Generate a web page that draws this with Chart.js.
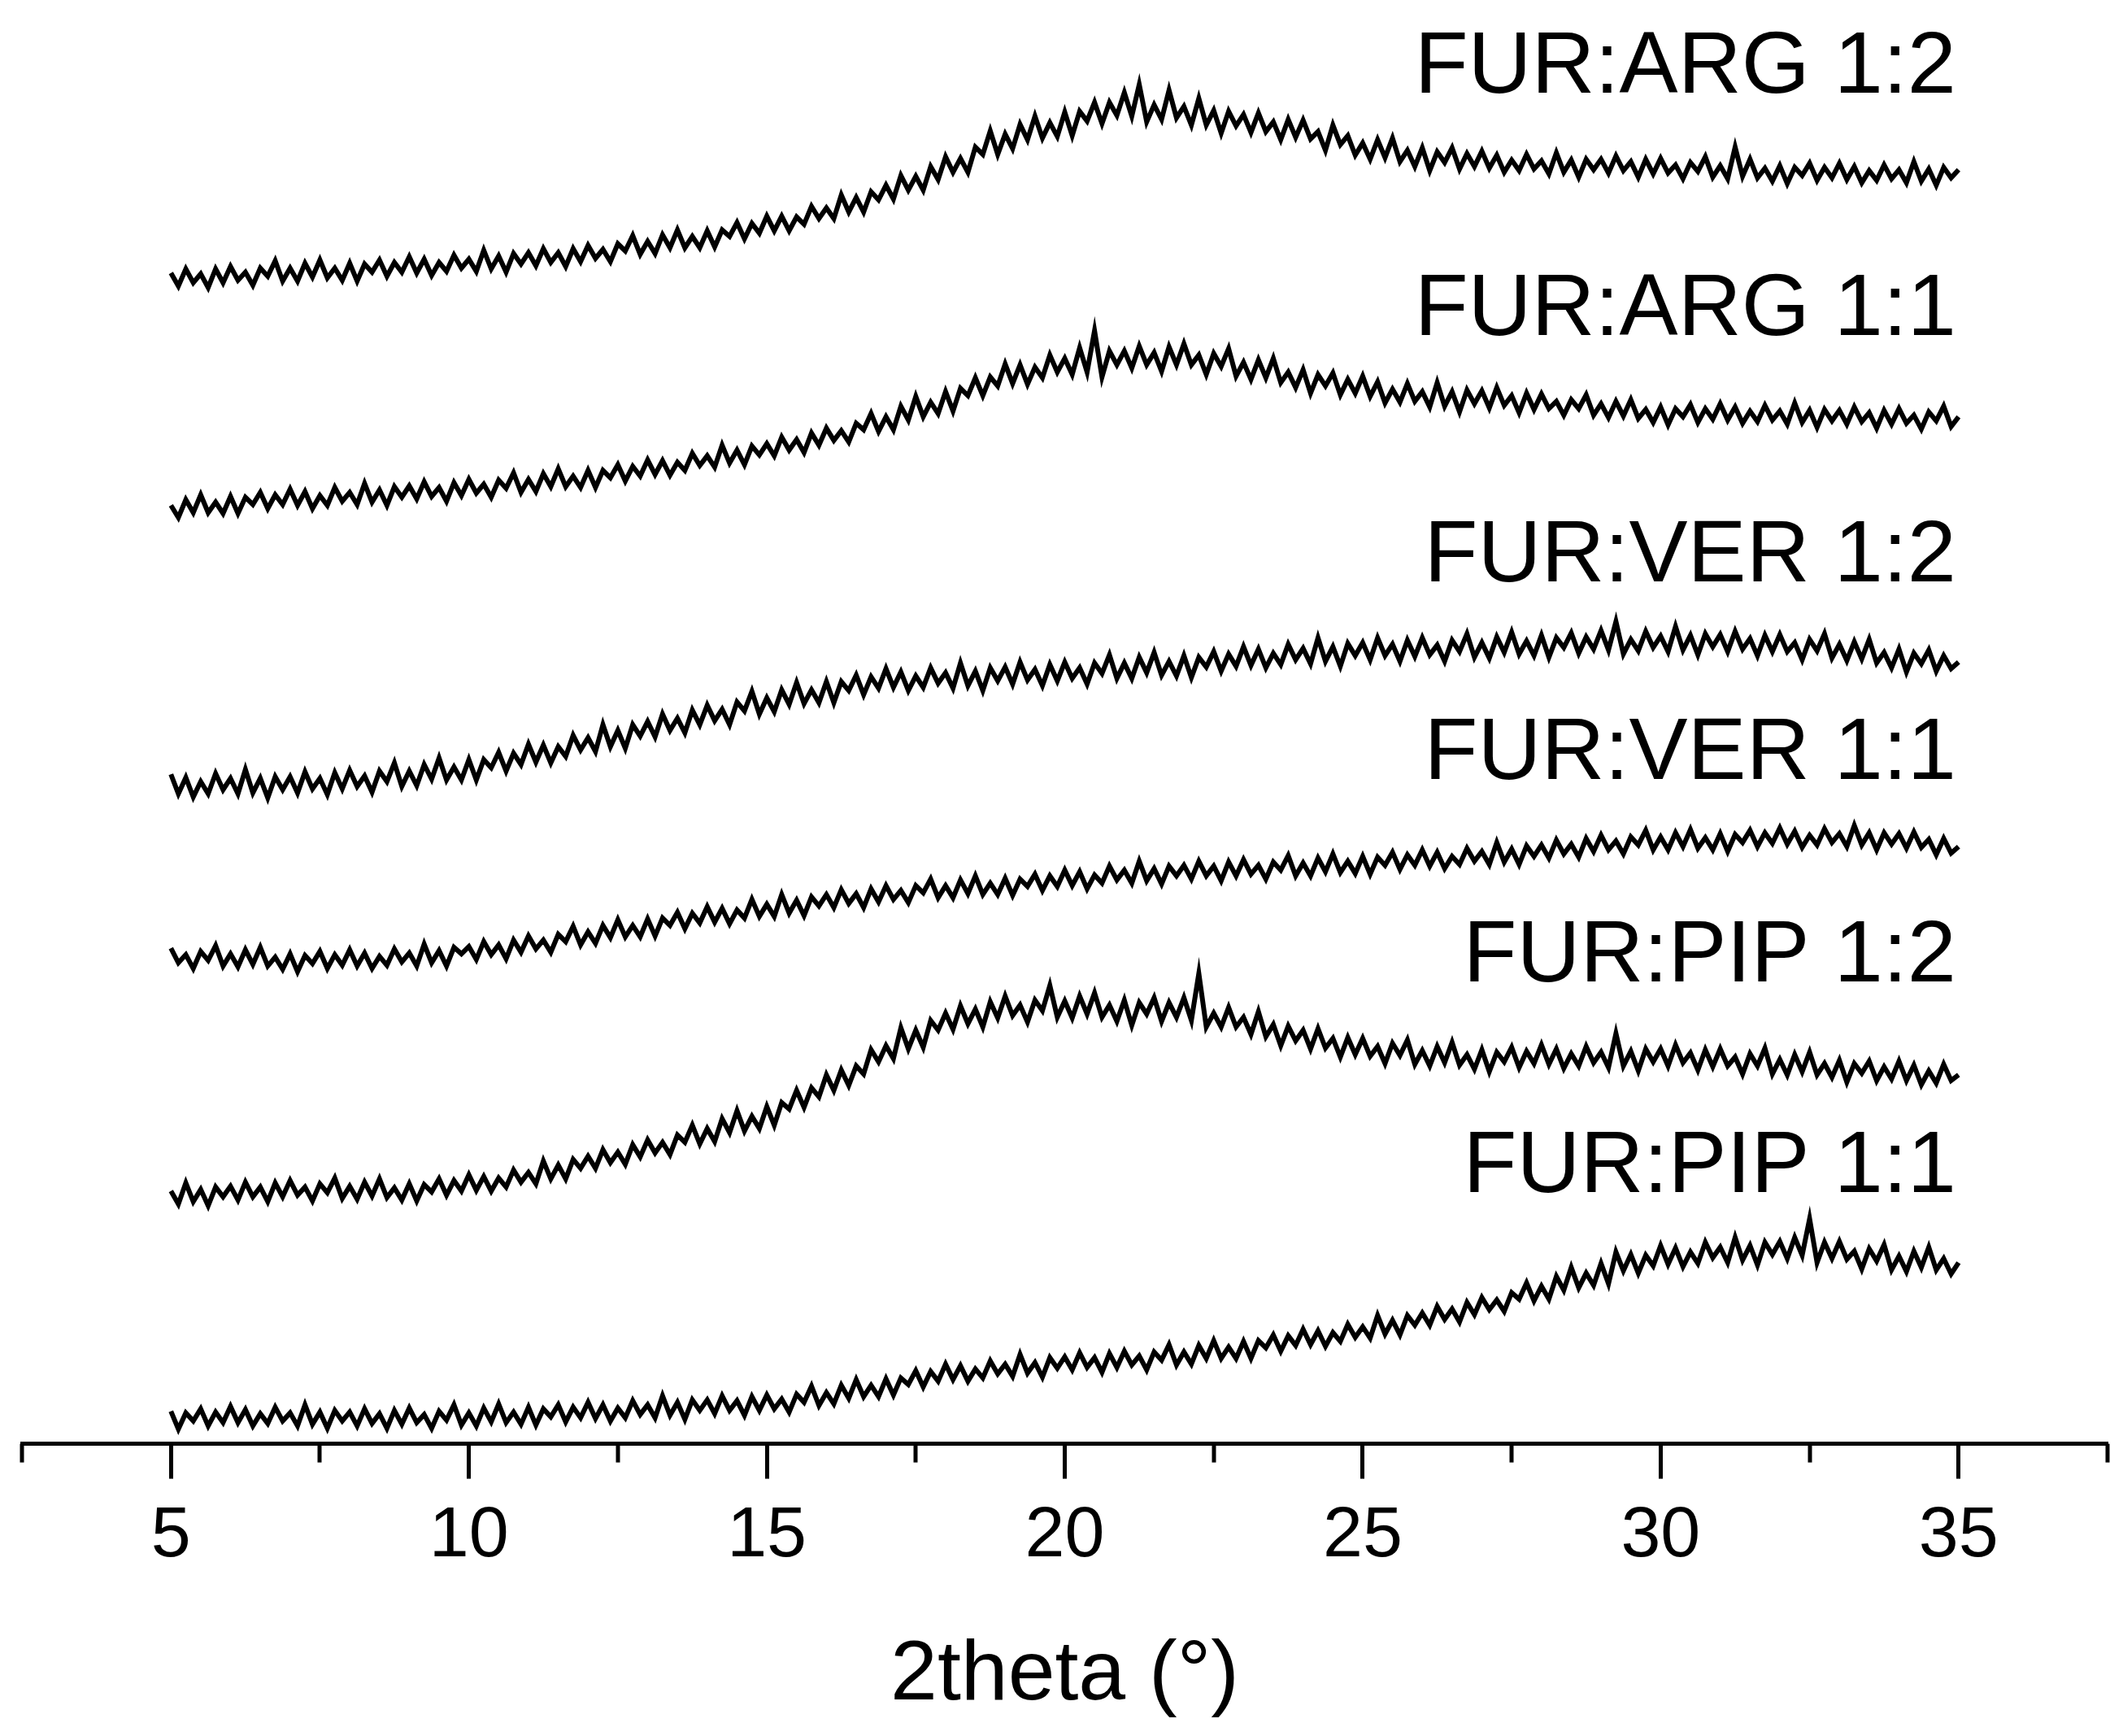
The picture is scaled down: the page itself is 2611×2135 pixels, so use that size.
<!DOCTYPE html>
<html>
<head>
<meta charset="utf-8">
<script src="https://cdn.jsdelivr.net/npm/chart.js@4.4.0/dist/chart.umd.min.js"></script>
<style>
  html, body { margin: 0; padding: 0; background: #ffffff; }
  #wrap { width: 2611px; height: 2135px; }
</style>
</head>
<body>
<div id="wrap"><canvas id="c" width="2611" height="2135" style="width:2611px;height:2135px"></canvas></div>
<script>
// ---- data (2theta sampling grid: start 5°, step 0.125°, 241 points) ----
const THETA_START = 5;
const THETA_STEP = 0.125;

const SERIES_NAMES = ['FUR:ARG 1:2', 'FUR:ARG 1:1', 'FUR:VER 1:2', 'FUR:VER 1:1', 'FUR:PIP 1:2', 'FUR:PIP 1:1'];

// intensities (a.u., stacked with vertical offsets as in the figure), one row per degree
const ARG12 = [
  1439,1423,1444,1427,1438,1421,1444,1427,
  1447,1430,1440,1424,1445,1435,1454,1429,
  1445,1429,1451,1434,1455,1433,1445,1430,
  1451,1429,1450,1440,1455,1435,1452,1440,
  1459,1439,1456,1436,1452,1441,1461,1445,
  1456,1441,1467,1444,1460,1440,1463,1450,
  1464,1448,1469,1452,1464,1447,1469,1453,
  1473,1457,1468,1453,1475,1466,1485,1462,
  1478,1463,1486,1470,1492,1470,1484,1470,
  1491,1471,1492,1484,1501,1481,1500,1488,
  1509,1491,1509,1491,1508,1499,1521,1506,
  1519,1506,1535,1514,1532,1514,1539,1529,
  1547,1530,1559,1541,1558,1541,1570,1554,
  1582,1563,1580,1563,1594,1585,1614,1585,
  1610,1592,1622,1603,1632,1605,1624,1607,
  1637,1608,1638,1626,1649,1623,1649,1633,
  1661,1632,1671,1625,1646,1628,1664,1630,
  1644,1621,1654,1621,1639,1611,1638,1620,
  1634,1612,1636,1613,1625,1603,1628,1606,
  1627,1604,1613,1590,1621,1597,1608,1584,
  1599,1579,1603,1581,1605,1576,1590,1570,
  1593,1565,1588,1575,1593,1567,1586,1570,
  1589,1568,1584,1563,1578,1565,1585,1567,
  1577,1561,1587,1563,1578,1557,1579,1566,
  1579,1562,1583,1565,1576,1557,1579,1561,
  1580,1562,1572,1555,1575,1564,1582,1557,
  1571,1555,1594,1558,1579,1556,1568,1552,
  1571,1549,1569,1559,1574,1553,1569,1556,
  1574,1554,1570,1550,1565,1553,1572,1555,
  1566,1550,1576,1552,1567,1547,1569,1556,
  1566];

const ARG11 = [
  1153,1138,1160,1144,1166,1144,1157,1143,
  1164,1143,1163,1154,1169,1149,1166,1154,
  1173,1153,1170,1149,1165,1153,1175,1158,
  1169,1154,1180,1157,1172,1153,1176,1163,
  1177,1161,1182,1164,1175,1158,1181,1165,
  1185,1168,1179,1163,1184,1174,1193,1169,
  1185,1170,1192,1176,1198,1176,1189,1175,
  1196,1175,1196,1187,1203,1183,1201,1189,
  1209,1191,1208,1190,1206,1196,1217,1202,
  1214,1200,1227,1205,1221,1203,1226,1215,
  1229,1214,1237,1221,1234,1218,1242,1227,
  1248,1233,1245,1231,1254,1246,1266,1244,
  1262,1246,1275,1258,1287,1262,1280,1266,
  1293,1269,1297,1288,1310,1288,1311,1300,
  1327,1303,1326,1302,1323,1310,1338,1317,
  1334,1314,1347,1317,1368,1311,1343,1326,
  1343,1322,1349,1326,1341,1318,1348,1326,
  1352,1326,1338,1314,1340,1324,1346,1312,
  1329,1308,1332,1310,1334,1304,1317,1298,
  1320,1291,1314,1300,1316,1289,1308,1291,
  1312,1287,1305,1279,1296,1280,1303,1281,
  1293,1274,1304,1275,1293,1268,1295,1278,
  1294,1273,1298,1276,1288,1267,1291,1271,
  1290,1272,1281,1264,1283,1272,1289,1264,
  1278,1261,1281,1263,1283,1260,1271,1255,
  1274,1252,1272,1262,1277,1255,1272,1259,
  1278,1258,1274,1254,1269,1256,1276,1258,
  1269,1253,1279,1255,1270,1249,1271,1257,
  1270,1253,1274,1256,1267,1248,1270,1253,
  1272,1254,1264,1247,1268,1257,1275,1250,
  1262];

const VER12 = [
  822,798,818,794,813,798,823,803,
  817,798,828,799,817,793,819,803,
  819,799,825,804,817,797,824,804,
  827,807,820,800,826,813,836,807,
  826,808,834,816,842,815,831,815,
  840,815,840,830,849,826,848,834,
  859,837,858,836,856,844,870,852,
  867,850,883,856,876,854,883,869,
  887,868,896,876,891,873,901,883,
  907,888,902,883,911,900,924,896,
  916,899,926,908,935,909,926,910,
  936,910,936,925,944,920,942,928,
  952,929,948,925,943,929,953,934,
  947,928,959,931,949,925,953,937,
  954,933,960,938,951,931,957,937,
  960,940,953,933,959,946,969,940,
  959,940,966,947,972,944,961,943,
  968,941,966,954,973,949,970,955,
  979,956,976,953,971,957,982,963,
  977,958,990,961,979,955,983,968,
  984,963,990,968,982,961,987,967,
  990,969,981,961,987,973,995,966,
  984,965,991,972,997,970,986,968,
  993,966,990,978,996,971,991,976,
  999,975,1010,970,988,974,998,978,
  992,973,1004,975,993,969,995,979,
  994,973,998,976,989,968,993,973,
  994,973,984,963,988,974,995,965,
  982,962,985,964,988,959,972,953,
  976,948,971,958,975,949,968,952,
  960];

const VER11 = [
  608,590,600,583,604,593,611,586,
  601,585,606,588,609,586,597,582,
  601,579,599,589,604,583,600,587,
  606,586,602,583,598,587,607,591,
  602,586,613,590,605,586,609,601,
  610,594,616,600,612,595,618,603,
  623,607,618,603,625,616,635,612,
  628,614,636,621,643,622,636,622,
  644,623,645,636,652,632,651,639,
  659,640,657,638,655,645,668,647,
  662,647,674,651,667,648,671,660,
  674,658,680,663,675,658,681,665,
  685,668,679,664,685,676,693,670,
  685,670,692,675,697,674,688,674,
  694,673,693,684,699,679,697,684,
  704,685,702,681,698,688,709,692,
  704,688,715,691,706,687,709,697,
  710,693,715,697,709,691,714,697,
  717,699,710,693,714,704,722,697,
  713,697,719,702,724,701,715,700,
  721,699,720,710,726,705,723,710,
  729,709,726,706,721,711,731,715,
  727,711,738,714,730,711,734,721,
  735,719,741,724,736,720,743,727,
  747,729,740,724,745,735,753,729,
  745,729,750,733,754,731,744,729,
  749,727,748,738,753,733,750,737,
  756,736,752,732,747,735,755,738,
  749,733,759,735,750,729,750,736,
  749,731,751,732,742,723,743,725,
  733];

const PIP12 = [
  309,293,319,296,311,291,314,302,
  315,298,320,302,314,296,319,302,
  322,304,314,297,318,307,325,300,
  315,299,320,303,324,301,313,298,
  318,297,317,308,324,304,322,309,
  329,310,327,309,325,314,335,320,
  332,318,346,324,341,324,348,337,
  352,337,360,344,357,342,366,351,
  372,356,369,354,378,369,390,367,
  386,370,398,381,408,383,401,386,
  413,390,418,410,433,412,436,425,
  452,433,458,439,463,453,483,468,
  488,472,510,484,507,486,519,507,
  528,508,537,515,533,511,542,522,
  549,525,538,517,544,531,562,523,
  543,522,549,527,553,523,538,518,
  544,513,541,527,547,518,541,523,
  547,519,577,511,528,511,535,511,
  523,502,530,499,514,488,512,494,
  507,484,509,485,497,474,498,477,
  497,475,487,466,491,476,495,465,
  482,463,487,467,492,464,477,459,
  483,456,480,468,486,461,481,466,
  489,465,484,460,478,463,487,467,
  480,461,503,463,481,457,484,468,
  484,463,489,467,479,458,483,462,
  484,463,474,453,478,463,485,453,
  471,452,477,456,480,452,466,449,
  470,443,466,454,469,445,462,447,
  469,445,464,440,457,442,465,445,
  452];

const PIP11 = [
  38,16,36,26,41,20,37,24,
  44,24,40,20,35,23,43,26,
  36,20,46,22,37,17,39,26,
  37,20,41,23,35,17,39,22,
  42,24,34,17,38,27,46,21,
  36,20,42,25,47,24,37,22,
  43,21,41,31,46,25,43,30,
  49,29,46,26,42,30,51,34,
  46,30,57,33,49,28,52,39,
  52,35,57,39,51,33,56,39,
  58,41,53,37,59,49,69,45,
  61,47,70,54,77,56,70,56,
  78,58,79,71,88,68,87,75,
  96,77,94,75,90,79,100,84,
  96,81,108,85,98,80,104,91,
  105,89,110,92,104,86,109,92,
  112,95,106,89,111,101,120,95,
  111,96,119,103,125,103,117,103,
  124,103,125,116,132,112,131,119,
  139,120,137,118,135,124,145,129,
  142,128,156,133,150,132,156,144,
  159,144,167,151,164,148,172,157,
  178,163,175,161,184,176,196,174,
  192,176,204,187,215,190,208,193,
  220,195,234,211,231,208,230,217,
  242,219,239,216,234,220,246,227,
  240,221,252,224,242,218,246,231,
  247,226,252,230,275,221,246,226,
  247,225,235,213,238,223,243,212,
  229,210,235,215,240,212,226,207,
  221];

const SERIES_VALUES = [ARG12, ARG11, VER12, VER11, PIP12, PIP11];

// label anchor heights (a.u.) for the series names
const LABEL_LEVELS = [1661, 1363, 1059, 816, 567, 308];

const X_TICKS = [5, 10, 15, 20, 25, 30, 35];
const X_MINOR_TICKS = [2.5, 7.5, 12.5, 17.5, 22.5, 27.5, 32.5, 37.5];
const X_MIN = 2.5, X_MAX = 37.5;
const X_TITLE = '2theta (°)';

// ---- chart ----
const FONT = '"Liberation Sans", Arial, Helvetica, sans-serif';

const datasets = SERIES_VALUES.map((vals, i) => ({
  label: SERIES_NAMES[i],
  data: vals.map((v, k) => ({ x: THETA_START + k * THETA_STEP, y: v })),
  borderColor: '#000000',
  borderWidth: 6,
  borderJoinStyle: 'miter',
  pointRadius: 0,
  tension: 0,
  fill: false
}));

const minorTicksAndLabels = {
  id: 'minorTicksAndLabels',
  afterDraw(chart) {
    const ctx = chart.ctx;
    const xs = chart.scales.x, ys = chart.scales.y;
    ctx.save();
    ctx.strokeStyle = '#000';
    ctx.lineWidth = 5;
    X_MINOR_TICKS.forEach(v => {
      const px = Math.round(xs.getPixelForValue(v));
      ctx.beginPath();
      ctx.moveTo(px, xs.top);
      ctx.lineTo(px, xs.top + 23);
      ctx.stroke();
    });
    ctx.fillStyle = '#000';
    ctx.font = '108px ' + FONT;
    ctx.textAlign = 'right';
    ctx.textBaseline = 'alphabetic';
    const rx = xs.getPixelForValue(35) - 3;
    SERIES_NAMES.forEach((name, i) => {
      ctx.fillText(name, rx, ys.getPixelForValue(LABEL_LEVELS[i]));
    });
    ctx.restore();
  }
};

new Chart(document.getElementById('c'), {
  type: 'line',
  data: { datasets },
  options: {
    responsive: false,
    animation: false,
    events: [],
    layout: { padding: { left: 27, right: 19, top: 0, bottom: 0 } },
    plugins: { legend: { display: false }, tooltip: { enabled: false }, title: { display: false } },
    scales: {
      x: {
        type: 'linear',
        min: X_MIN,
        max: X_MAX,
        afterBuildTicks: (scale) => { scale.ticks = X_TICKS.map(v => ({ value: v })); },
        grid: { drawOnChartArea: false, drawTicks: true, tickLength: 43, tickWidth: 5, tickColor: '#000' },
        border: { display: true, color: '#000', width: 5 },
        ticks: {
          color: '#000', padding: 18, maxRotation: 0, autoSkip: false,
          font: { family: FONT, size: 88 },
          callback: (v) => String(v)
        },
        title: {
          display: true, text: X_TITLE, color: '#000',
          font: { family: FONT, size: 104 },
          padding: { top: 39, bottom: 11 }
        }
      },
      y: { display: false, min: -2, max: 1775 }
    }
  },
  plugins: [minorTicksAndLabels]
});
</script>
</body>
</html>
